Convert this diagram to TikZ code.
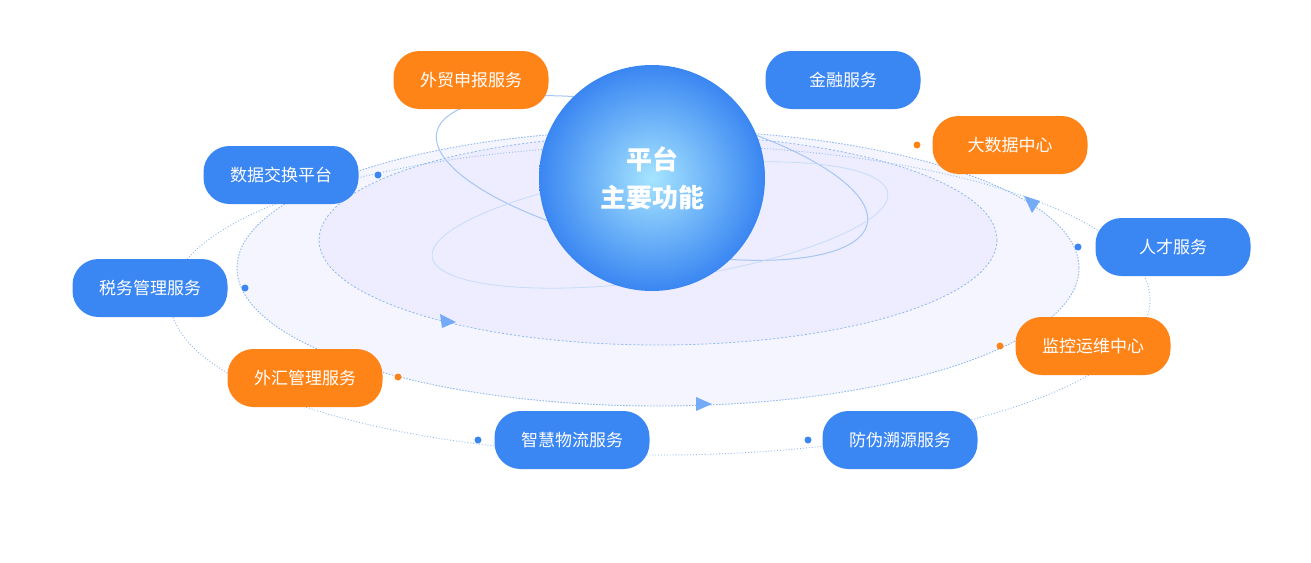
\documentclass[tikz,border=0pt]{standalone}
\usepackage{fontspec}
\setmainfont{Noto Sans CJK SC}
\usetikzlibrary{arrows.meta}
\definecolor{nb}{HTML}{3A86F2}
\definecolor{no}{HTML}{FF8418}
\definecolor{ln}{HTML}{8DB8F0}
\tikzset{
 pill/.style={rounded corners=26pt,minimum width=155pt,minimum height=58pt,text=white,font=\fontsize{17pt}{20pt}\selectfont,inner sep=0pt},
 bpill/.style={pill,fill=nb},
 opill/.style={pill,fill=no},
 orb/.style={ln,line width=0.9pt,dotted},
 dotb/.style={circle,fill=nb,inner sep=0pt,minimum size=7pt},
 doto/.style={circle,fill=no,inner sep=0pt,minimum size=7pt},
 tip/.style={fill=nb!70,draw=none}
}
\begin{document}
\begin{tikzpicture}[x=1pt,y=-1pt]
\useasboundingbox (0,0) rectangle (1311,562);
\fill[white] (0,0) rectangle (1311,562);
% soft disc
\fill[blue!4] (658,268) ellipse (421 and 138);
\fill[blue!7] (658,240) ellipse (339 and 105);
% orbits
\draw[orb] (660,300) ellipse (490 and 155);
\draw[orb,dash pattern=on 1.5pt off 1.5pt] (658,268) ellipse (421 and 138);
\draw[ln,line width=0.8pt,dashed,dash pattern=on 2pt off 2pt] (658,240) ellipse (339 and 105);
% tilted rings
\draw[ln!80,line width=1pt,rotate around={-12:(652,178)}] (652,178) ellipse (220 and 70);
\draw[ln!50,line width=0.8pt,rotate around={8:(660,225)}] (660,225) ellipse (230 and 55);
% arrowheads
\fill[tip] (440,314) -- (456,322) -- (442,328) -- cycle;
\fill[tip] (696,397) -- (712,404) -- (696,411) -- cycle;
\fill[tip] (1024,196) -- (1040,201) -- (1032,213) -- cycle;
% center circle
\shade[ball color=nb!90, shading=radial,inner color=blue!30!cyan!35,outer color=nb] (652,178) circle (113);
\node[circle,minimum size=226pt,inner sep=0pt] (c) at (652,178) {};
\node[text=white,font=\bfseries\fontsize{26pt}{38pt}\selectfont,align=center] (ct) at (652,178) {平台\\主要功能};
% dots
\node[dotb] (d1) at (378,175) {};
\node[dotb] (d2) at (245,288) {};
\node[dotb] (d3) at (478,440) {};
\node[dotb] (d4) at (808,440) {};
\node[dotb] (d5) at (1078,247) {};
\node[doto] (d6) at (917,145) {};
\node[doto] (d7) at (398,377) {};
\node[doto] (d8) at (1000,346) {};
% nodes
\node[opill] (n1) at (471,80) {外贸申报服务};
\node[bpill] (n2) at (843,80) {金融服务};
\node[opill] (n3) at (1010,145) {大数据中心};
\node[bpill] (n4) at (281,175) {数据交换平台};
\node[bpill] (n5) at (1173,247) {人才服务};
\node[bpill] (n6) at (150,288) {税务管理服务};
\node[opill] (n7) at (1093,346) {监控运维中心};
\node[opill] (n8) at (305,378) {外汇管理服务};
\node[bpill] (n9) at (572,440) {智慧物流服务};
\node[bpill] (n10) at (900,440) {防伪溯源服务};
\end{tikzpicture}
\end{document}
